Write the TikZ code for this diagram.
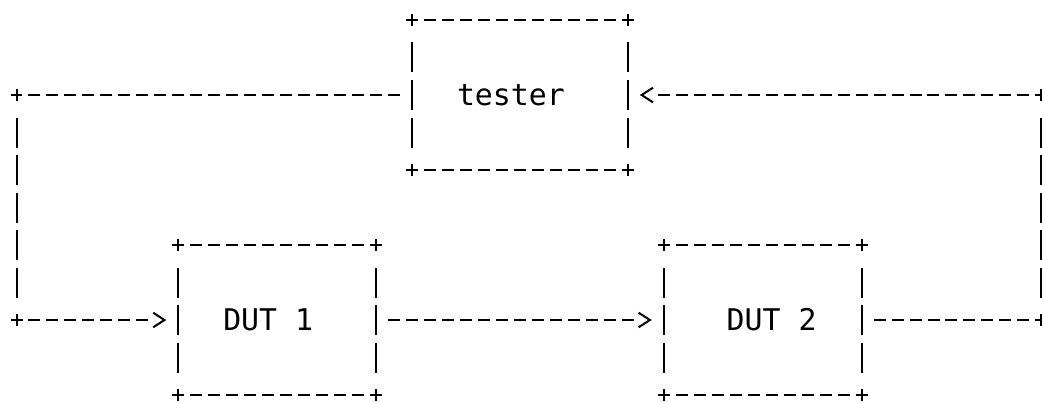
\documentclass[tikz,border=0pt]{standalone}
\usepackage{fontspec}
\newfontfamily\duttfont{DejaVu Sans Mono}
\usetikzlibrary{arrows.meta}
\tikzset{
  ln/.style={line width=1.5pt, line cap=butt, draw=black},
  hdash/.style={ln, dash pattern=on 9pt off 4.485pt},
  vbox/.style={ln, dash pattern=on 9pt off 12.375pt on 22.5pt off 5.625pt on 22.5pt off 5.625pt on 22.5pt off 12.375pt on 9pt off 40pt},
  vlink/.style={ln, dash pattern=on 9pt off 12.375pt on 22.5pt off 5.625pt on 22.5pt off 5.625pt on 22.5pt off 5.625pt on 22.5pt off 5.625pt on 22.5pt off 12.375pt on 9pt off 40pt},
  arrowend/.style={-{Straight Barb[length=8.5pt,width=11pt,line width=1.5pt]}, shorten >=9pt},
  box/.style={draw=none, inner sep=0pt, outer sep=0pt, minimum height=112.5pt,
    font=\duttfont\fontsize{22.4pt}{27pt}\selectfont},
}
\begin{document}
\begin{tikzpicture}[x=0.75pt,y=-0.75pt]
\fill[white] (0,0) rectangle (1042,403);
\useasboundingbox (0,0) rectangle (1042,403);

\node[box, minimum width=161.82pt] (tester) at (519.94,95) {\phantom{xx}tester\phantom{xxx}};
\node[box, minimum width=148.335pt] (dut1) at (277.21,320) {\phantom{xx}DUT 1\phantom{xxx}};
\node[box, minimum width=148.335pt] (dut2) at (762.67,320) {\phantom{xxx}DUT 2\phantom{xx}};

\coordinate (ctl) at (16.5,95);
\coordinate (cbl) at (16.5,320);
\coordinate (ctr) at (1041.36,95);
\coordinate (cbr) at (1041.36,320);

\foreach \n in {tester,dut1,dut2}{
  \draw[hdash] ([xshift=-4.5pt]\n.north west) -- ([xshift=4.5pt]\n.north east);
  \draw[hdash] ([xshift=-4.5pt]\n.south west) -- ([xshift=4.5pt]\n.south east);
  \draw[vbox] ([yshift=4.5pt]\n.north west) -- ([yshift=-4.5pt]\n.south west);
  \draw[vbox] ([yshift=4.5pt]\n.north east) -- ([yshift=-4.5pt]\n.south east);
}

% tester -> DUT 1
\draw[hdash, shorten <=9pt, shorten >=-4.5pt] (tester.west) -- (ctl);
\draw[vlink] ([yshift=4.5pt]ctl) -- ([yshift=-4.5pt]cbl);
\draw[ln, arrowend, dash pattern=on 9pt off 4.485pt on 9pt off 4.485pt on 9pt off 4.485pt on 9pt off 4.485pt on 9pt off 4.485pt on 9pt off 4.485pt on 9pt off 4.485pt on 9pt off 40pt]
  ([xshift=-4.5pt]cbl) -- (dut1.west);

% DUT 1 -> DUT 2
\draw[ln, arrowend, shorten <=9pt, dash pattern=on 9pt off 4.485pt on 9pt off 4.485pt on 9pt off 4.485pt on 9pt off 4.485pt on 9pt off 4.485pt on 9pt off 4.485pt on 9pt off 4.485pt on 9pt off 4.485pt on 9pt off 4.485pt on 9pt off 4.485pt on 9pt off 4.485pt on 9pt off 4.485pt on 9pt off 4.485pt on 9pt off 40pt]
  (dut1.east) -- (dut2.west);

% DUT 2 -> tester
\draw[hdash, shorten <=9pt, shorten >=-4.5pt] (dut2.east) -- (cbr);
\draw[vlink] ([yshift=-4.5pt]cbr) -- ([yshift=4.5pt]ctr);
\draw[ln, arrowend, dash pattern=on 9pt off 4.485pt on 9pt off 4.485pt on 9pt off 4.485pt on 9pt off 4.485pt on 9pt off 4.485pt on 9pt off 4.485pt on 9pt off 4.485pt on 9pt off 4.485pt on 9pt off 4.485pt on 9pt off 4.485pt on 9pt off 4.485pt on 9pt off 4.485pt on 9pt off 4.485pt on 9pt off 4.485pt on 9pt off 4.485pt on 9pt off 4.485pt on 9pt off 4.485pt on 9pt off 4.485pt on 9pt off 4.485pt on 9pt off 4.485pt on 9pt off 4.485pt on 9pt off 40pt]
  ([xshift=4.5pt]ctr) -- (tester.east);
\end{tikzpicture}
\end{document}
